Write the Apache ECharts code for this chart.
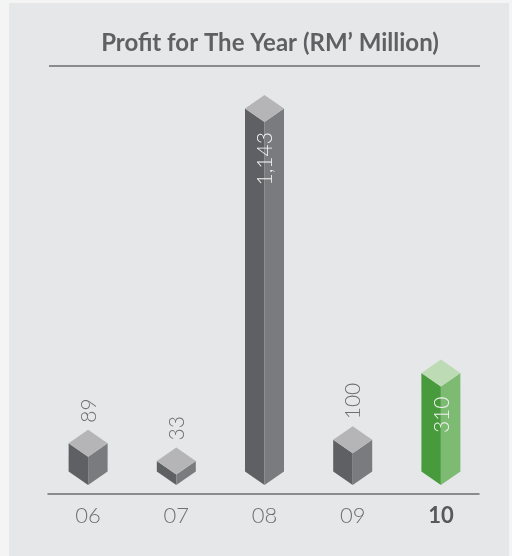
<!DOCTYPE html>
<html>
<head>
<meta charset="utf-8">
<script src="https://cdn.jsdelivr.net/npm/echarts@6/dist/echarts.min.js"></script>
<style>
  html, body { margin: 0; padding: 0; background: #f4f4f4; }
  #chart { width: 512px; height: 556px; }
</style>
</head>
<body>
<div id="chart"></div>
<script>
// Profit for the year, RM' million
const categories = ['06', '07', '08', '09', '10'];
const profit = [89, 33, 1143, 100, 310];
const currentYear = '10';

const GAP = 9;        // space between the axis line and the bottom tip of each prism
const HALF_W = 19.5;  // half width of a prism
const DEPTH = 13.5;   // vertical half-height of the diamond faces

const greyFaces = { top: '#b5b5b7', left: '#5f6064', right: '#7a7b7f' };
const greenFaces = { top: '#bddbb4', left: '#489b3c', right: '#7dba72' };

function renderPrism(params, api) {
  const idx = api.value(0);
  const val = api.value(1);
  const base = api.coord([idx, 0]);
  const head = api.coord([idx, val]);
  const x = base[0];
  const yb = base[1] - GAP;
  const yt = head[1] - GAP;
  const faces = categories[idx] === currentYear ? greenFaces : greyFaces;
  const frontLen = yb - yt;
  const inside = frontLen > 60;
  const text = val.toLocaleString('en-US');

  const font = { fontSize: 21, fontFamily: 'Lato', fontWeight: 300 };
  const label = inside
    ? { type: 'text', x: x + 1, y: yt + 10, rotation: Math.PI / 2,
        style: Object.assign({ text: text, fill: '#f2f2f2', align: 'right', verticalAlign: 'middle' }, font) }
    : { type: 'text', x: x + 1, y: yt - 2 * DEPTH - 7, rotation: Math.PI / 2,
        style: Object.assign({ text: text, fill: '#6e6f73', align: 'left', verticalAlign: 'middle' }, font) };

  return {
    type: 'group',
    children: [
      { type: 'polygon', shape: { points: [[x - HALF_W, yt - DEPTH], [x, yt], [x, yb], [x - HALF_W, yb - DEPTH]] },
        style: { fill: faces.left } },
      { type: 'polygon', shape: { points: [[x, yt], [x + HALF_W, yt - DEPTH], [x + HALF_W, yb - DEPTH], [x, yb]] },
        style: { fill: faces.right } },
      { type: 'polygon', shape: { points: [[x, yt - 2 * DEPTH], [x + HALF_W, yt - DEPTH], [x, yt], [x - HALF_W, yt - DEPTH]] },
        style: { fill: faces.top } },
      label
    ]
  };
}

const chart = echarts.init(document.getElementById('chart'), null, { renderer: 'canvas' });

chart.setOption({
  backgroundColor: 'transparent',
  animation: false,
  graphic: [
    { type: 'rect', left: 9, top: 3, z: -10, shape: { width: 500, height: 553 },
      style: { fill: '#e6e7e9' } },
    { type: 'line', z: 5, shape: { x1: 49, y1: 66, x2: 480, y2: 66 },
      style: { stroke: '#6d6e70', lineWidth: 1.5 } }
  ],
  title: {
    text: 'Profit for The Year (RM\u2019 Million)',
    left: 265,
    textAlign: 'center',
    top: 26,
    textStyle: { fontFamily: 'Lato', fontWeight: 'bold', fontSize: 24, color: '#5f6063' }
  },
  grid: [
    { left: 44, right: 27, top: 113, bottom: 62 },
    { left: 48, right: 33, top: 113, bottom: 62 }
  ],
  xAxis: [
    {
      type: 'category', gridIndex: 0, data: categories,
      axisLine: { show: false }, axisTick: { show: false },
      axisLabel: {
        margin: 11, fontFamily: 'Lato', fontSize: 22, fontWeight: 300, color: '#6f7074',
        formatter: v => v === currentYear ? '{b|' + v + '}' : v,
        rich: { b: { fontFamily: 'Lato', fontSize: 22, fontWeight: 'bold', color: '#58595c' } }
      }
    },
    {
      type: 'value', gridIndex: 1, min: 0, max: 1,
      axisLine: { show: true, lineStyle: { color: '#6d6e70', width: 1.5 } },
      axisTick: { show: false }, axisLabel: { show: false }, splitLine: { show: false }
    }
  ],
  yAxis: [
    { type: 'value', gridIndex: 0, min: 0, max: 1200, show: false, splitLine: { show: false } },
    { type: 'value', gridIndex: 1, min: 0, max: 1, show: false, splitLine: { show: false } }
  ],
  series: [{
    type: 'custom',
    xAxisIndex: 0,
    yAxisIndex: 0,
    renderItem: renderPrism,
    data: profit.map((v, i) => [i, v])
  }]
});
</script>
</body>
</html>
